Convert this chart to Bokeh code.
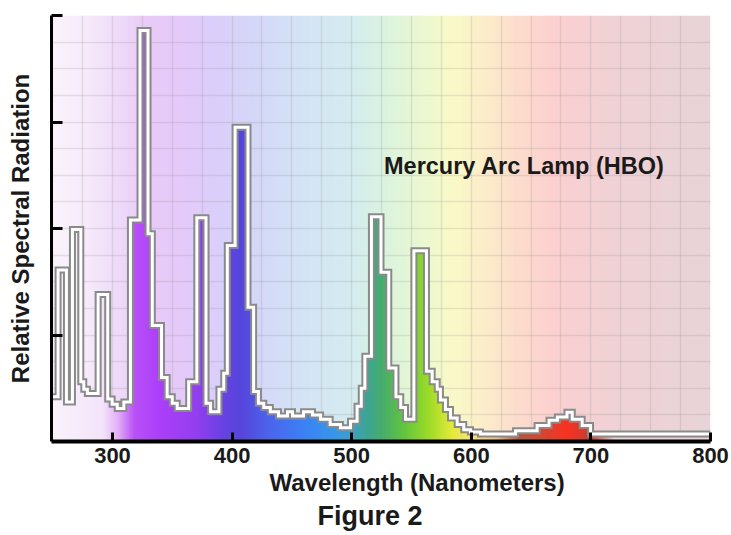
import numpy as np
from bokeh.plotting import figure
from bokeh.models import Range1d, FixedTicker, SingleIntervalTicker, Title
from bokeh.core.properties import value
from bokeh.embed import file_html
from bokeh.resources import INLINE

# ---- data ----
edges = [249, 254.5, 261.5, 266.5, 273.5, 276, 279, 288, 296, 299.7, 304, 309.5, 315, 323,
         329.7, 333.3, 341, 345.7, 350, 354.1, 363.7, 370.5, 378.2, 382, 389, 393, 396, 402.5,
         413.3, 418, 422, 426.5, 432, 438.8, 446.3, 450.5, 459.7, 467.2, 474, 482, 490.6, 499,
         504.5, 508, 511, 516.5, 524.5, 531, 537, 541, 545, 552, 562.5, 567.3, 571.5, 574.2,
         578.4, 582.6, 588.2, 593.7, 599.3, 607.7, 637, 655, 665, 672, 680, 684.4, 692.7, 699.7, 800]
values = [0.42, 1.61, 0.37, 1.99, 0.56, 0.49, 0.45, 1.38, 0.40, 0.35, 0.31, 0.37, 2.08, 3.86,
          1.95, 1.09, 0.60, 0.42, 0.36, 0.31, 0.56, 2.10, 0.36, 0.28, 0.49, 0.64, 1.84, 2.95,
          1.26, 0.47, 0.36, 0.32, 0.28, 0.24, 0.28, 0.24, 0.28, 0.25, 0.21, 0.16, 0.13, 0.19,
          0.33, 0.50, 0.80, 2.11, 1.59, 0.69, 0.42, 0.32, 0.21, 1.79, 0.66, 0.56, 0.49, 0.39,
          0.30, 0.22, 0.16, 0.11, 0.09, 0.07, 0.10, 0.15, 0.20, 0.23, 0.275, 0.21, 0.15, 0.07]
x_ticks = [300, 400, 500, 600, 700, 800]
y_ticks = [1, 2, 3, 4]
lamp_name = "Mercury Arc Lamp (HBO)"
x_label = "Wavelength (Nanometers)"
y_label = "Relative Spectral Radiation"
caption = "Figure 2"

# pastel background spectrum (nm -> rgb)
bg_nm = [249, 280, 300, 330, 360, 390, 420, 460, 500, 530, 560, 585, 610, 640, 670, 720, 800]
bg_rgb = [(250, 244, 252), (246, 234, 251), (240, 222, 250), (233, 202, 248), (228, 202, 250),
          (218, 208, 250), (212, 216, 248), (212, 228, 246), (212, 236, 240), (220, 244, 222),
          (236, 248, 208), (250, 250, 200), (252, 238, 202), (252, 220, 206), (252, 208, 208),
          (240, 210, 214), (232, 212, 216)]
# saturated spectrum under the curve (nm -> rgb)
fill_nm = [249, 292, 305, 318, 340, 370, 392, 408, 430, 460, 485, 500, 512, 525, 545, 565, 585,
           600, 620, 640, 660, 680, 700, 720, 800]
fill_rgb = [(250, 244, 252), (244, 228, 250), (226, 172, 248), (186, 82, 248), (172, 62, 250),
            (148, 62, 240), (104, 66, 228), (86, 70, 220), (76, 100, 236), (60, 130, 245),
            (55, 150, 235), (60, 160, 200), (60, 165, 150), (70, 172, 110), (100, 200, 60),
            (160, 220, 40), (230, 235, 60), (245, 225, 120), (240, 200, 150), (176, 88, 62),
            (214, 70, 50), (250, 50, 35), (200, 60, 50), (232, 212, 216), (232, 212, 216)]

X0, X1, Y0, Y1 = 249, 800, 0, 4

p = figure(frame_width=659, frame_height=426,
           x_range=Range1d(X0, X1), y_range=Range1d(Y0, Y1),
           output_backend="svg", toolbar_location=None,
           min_border_left=51, min_border_right=21, min_border_top=15, min_border_bottom=94)
p.background_fill_color = "white"
p.border_fill_color = "white"
p.outline_line_color = None

# ---- images ----
step = 0.5
cols = np.arange(X0, X1, step) + step / 2


def interp_rgb(nm_stops, rgb_stops, xs):
    arr = np.array(rgb_stops, dtype=float)
    return np.stack([np.interp(xs, nm_stops, arr[:, i]) for i in range(3)], axis=-1)


bgc = interp_rgb(bg_nm, bg_rgb, cols)
bg_img = np.empty((1, len(cols)), dtype=np.uint32)
v = bg_img.view(dtype=np.uint8).reshape((1, len(cols), 4))
v[0, :, :3] = bgc.astype(np.uint8)
v[0, :, 3] = 255
p.image_rgba(image=[bg_img], x=X0, y=Y0, dw=X1 - X0, dh=Y1 - Y0, level="image")

ystep = 0.01
rows = np.arange(Y0, Y1, ystep) + ystep / 2
e = np.array(edges)
vals = np.array(values)
idx = np.clip(np.searchsorted(e, cols, side="right") - 1, 0, len(vals) - 1)
curve = vals[idx]
fc = interp_rgb(fill_nm, fill_rgb, cols)
mask = rows[:, None] < curve[None, :]
fill_img = np.zeros((len(rows), len(cols)), dtype=np.uint32)
fv = fill_img.view(dtype=np.uint8).reshape((len(rows), len(cols), 4))
fv[:, :, :3] = fc[None, :, :].astype(np.uint8)
fv[:, :, 3] = np.where(mask, 255, 0).astype(np.uint8)
p.image_rgba(image=[fill_img], x=X0, y=Y0, dw=X1 - X0, dh=Y1 - Y0)

# ---- step outline ----
xs = np.repeat(e, 2)[1:-1]
ys = np.repeat(vals, 2)
p.line(xs, ys, line_color="#8a8a8a", line_width=7, line_join="miter")
p.line(xs, ys, line_color="white", line_width=3, line_join="miter")

# ---- grid ----
p.xgrid.ticker = SingleIntervalTicker(interval=25)
p.ygrid.ticker = SingleIntervalTicker(interval=0.25)
for g in (p.xgrid, p.ygrid):
    g.grid_line_color = "#8a8a8a"
    g.grid_line_alpha = 0.2
    g.grid_line_width = 1.5

# ---- axes ----
font = "Liberation Sans"
p.xaxis.ticker = FixedTicker(ticks=x_ticks)
p.yaxis.ticker = FixedTicker(ticks=y_ticks)
for ax in (p.xaxis, p.yaxis):
    ax.axis_line_color = "black"
    ax.major_tick_line_color = "black"
    ax.major_tick_line_width = 3
    ax.major_tick_out = 0
    ax.minor_tick_line_color = None
    ax.major_label_text_font = font
    ax.major_label_text_font_style = "bold"
    ax.major_label_text_color = "#1a1a1a"
p.xaxis.axis_line_width = 4
p.yaxis.axis_line_width = 3
p.xaxis.major_tick_in = 9
p.yaxis.major_tick_in = 11
p.xaxis.major_label_text_font_size = "22px"
p.xaxis.major_label_standoff = 6
p.yaxis.major_label_overrides = {t: "" for t in y_ticks}
p.yaxis.major_label_standoff = 0
p.yaxis.axis_label = y_label
p.yaxis.axis_label_text_font = font
p.yaxis.axis_label_text_font_style = "bold"
p.yaxis.axis_label_text_font_size = "24px"
p.yaxis.axis_label_text_color = "#1a1a1a"
p.yaxis.axis_label_standoff = 18

p.add_layout(Title(text=x_label, align="left", offset=218, text_font=font,
                   text_font_style="bold", text_font_size="24px", text_color="#1a1a1a",
                   standoff=2), "below")
p.add_layout(Title(text=caption, align="left", offset=266, text_font=font,
                   text_font_style="bold", text_font_size="27px", text_color="#1a1a1a",
                   standoff=4), "below")

p.text(x=[527], y=[2.587], text=[lamp_name], text_font=value(font), text_font_style="bold",
       text_font_size="23.5px", text_color="#1a1a1a", text_baseline="middle", text_align="left")

open("out.html", "w").write(file_html(p, INLINE))
